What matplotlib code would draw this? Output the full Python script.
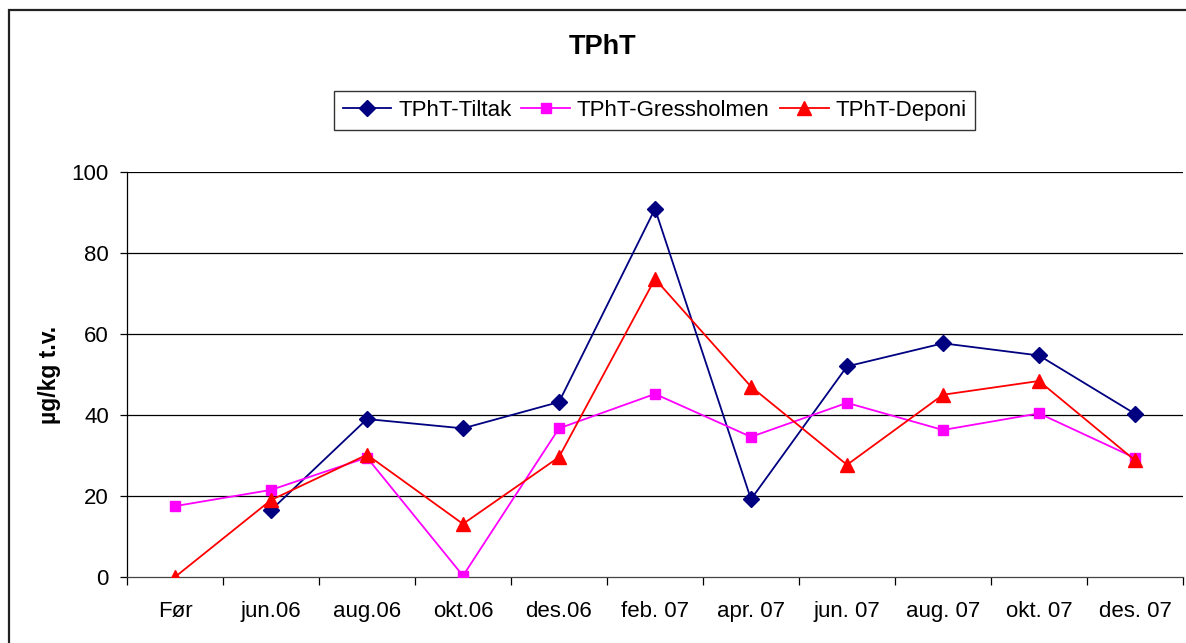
import numpy as np
import matplotlib
matplotlib.use("Agg")
import matplotlib.pyplot as plt
from matplotlib.patches import Rectangle

categories = ["Før", "jun.06", "aug.06", "okt.06", "des.06", "feb. 07", "apr. 07",
              "jun. 07", "aug. 07", "okt. 07", "des. 07"]
tiltak = [np.nan, 16.5, 39.0, 36.7, 43.2, 90.9, 19.2, 52.0, 57.7, 54.7, 40.3]
gressholmen = [17.5, 21.5, 29.5, 0.3, 36.7, 45.2, 34.6, 43.0, 36.3, 40.4, 29.4]
deponi = [0.0, 19.0, 30.2, 13.1, 29.6, 73.6, 47.0, 27.7, 45.0, 48.4, 28.8]
yticks = [0, 20, 40, 60, 80, 100]

plt.rcParams['font.family'] = ['Liberation Sans', 'DejaVu Sans']

W, H = 1186, 643
fig = plt.figure(figsize=(W / 100, H / 100), dpi=100)
fig.patch.set_facecolor('white')

# outer chart border
fig.add_artist(Rectangle((8.5 / W, -0.05), 1.1, 1 - 10 / H + 0.05, transform=fig.transFigure,
                         fill=False, edgecolor='#222222', linewidth=1.6, clip_on=False))

ax = fig.add_axes([127 / W, 1 - 577 / H, (1183 - 127) / W, (577 - 172) / H])
x = np.arange(len(categories))

ax.plot(x, tiltak, color='#000080', marker='D', markersize=7.8, linewidth=1.3,
        label='TPhT-Tiltak', zorder=3)
ax.plot(x, gressholmen, color='#FF00FF', marker='s', markersize=7.8, linewidth=1.3,
        label='TPhT-Gressholmen', zorder=3)
ax.plot(x, deponi, color='#FF0000', marker='^', markersize=9.5, linewidth=1.3,
        label='TPhT-Deponi', zorder=4)

ax.set_xlim(-0.5, len(categories) - 0.5)
ax.set_ylim(0, 100)
ax.set_yticks(yticks)
ax.set_yticklabels([str(v) for v in yticks], fontsize=16)
for v in yticks[1:]:
    ax.axhline(v, color='black', linewidth=0.9, zorder=1)

ax.set_xticks(np.arange(-0.5, len(categories), 1.0))
ax.set_xticklabels([])
ax.set_xticks(x, minor=True)
ax.set_xticklabels(categories, minor=True, fontsize=16)
ax.tick_params(axis='x', which='major', direction='out', length=6, width=0.9, color='black')
ax.tick_params(axis='x', which='minor', length=0, pad=17)
ax.tick_params(axis='y', direction='out', length=5, width=0.9, pad=8)

for s in ['top', 'right']:
    ax.spines[s].set_visible(False)
ax.spines['left'].set_linewidth(0.9)
ax.spines['bottom'].set_linewidth(0.9)
ax.spines['bottom'].set_color('#444444')

ax.set_ylabel('µg/kg t.v.', fontsize=16.5, fontweight='bold', labelpad=8)

fig.text(603 / W, 1 - 47 / H, 'TPhT', fontsize=19.5, fontweight='bold',
         ha='center', va='center')

leg = fig.legend(loc='center', bbox_to_anchor=((335 + 974) / 2 / W, 1 - 110.5 / H),
                 ncol=3, fontsize=16, frameon=True, fancybox=False, shadow=False,
                 handlelength=2.2, handletextpad=0.3, columnspacing=0.45,
                 borderpad=0.4, borderaxespad=0)
leg.get_frame().set_edgecolor('black')
leg.get_frame().set_linewidth(1.0)

fig.savefig('out.png', dpi=100, facecolor='white')
